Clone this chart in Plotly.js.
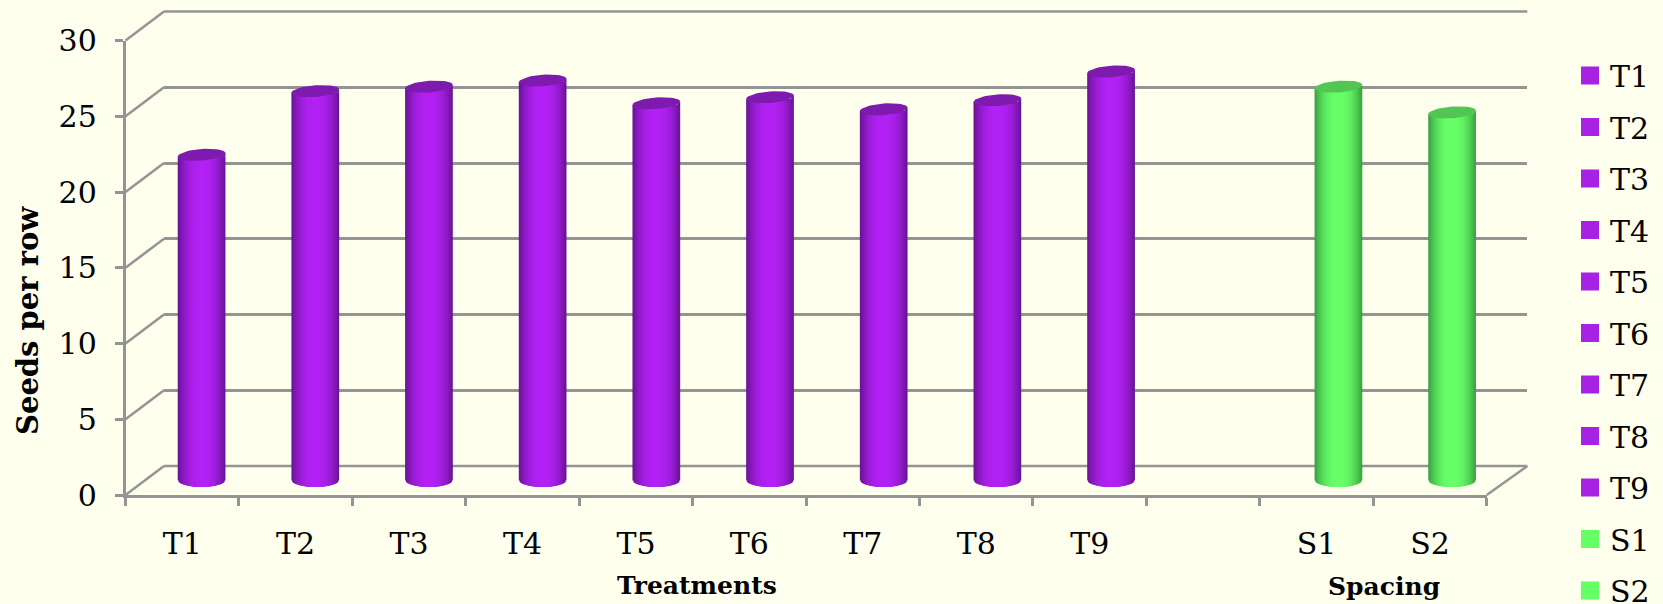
<!DOCTYPE html>
<html><head><meta charset="utf-8">
<script src="https://cdn.plot.ly/plotly-3.0.1.min.js"></script>
<style>html,body{margin:0;padding:0;background:#ffffee;width:1663px;height:604px;overflow:hidden}#c{width:1663px;height:640px}</style>
</head><body><div id="c"></div>
<script>
const categories = ['T1','T2','T3','T4','T5','T6','T7','T8','T9',' ','S1','S2'];
const seedsPerRow = [21.5,25.7,26.0,26.4,24.9,25.3,24.5,25.1,27.0,null,26.0,24.3];
const yTicks = [0,5,10,15,20,25,30];

// the figure runs a little below the window so the tall legend is not squeezed
const W=1663,H=640;
const FRONT={l:125.5,r:1486.7,t:40.5,b:495};
const DEPTH={x:38.5,y:29};
const BACK_R=1527.3, BAR_STRETCH=3;
const GRAY='#949494', BG='#ffffee', FONT='"DejaVu Serif", serif', LW=2.5;
const PURPLE={legend:'#a822e4',mid:[178,34,244],edge:[104,20,150],cap:'#7e1bae'};
const GREEN={legend:'#66ff66',mid:[104,255,104],edge:[58,160,66],cap:'#52c652'};
const palette=c=>c[0]==='S'?GREEN:PURPLE;
const domX=s=>[(FRONT.l+DEPTH.x*s)/W,(FRONT.r+DEPTH.x*s)/W];
const domY=s=>[1-(FRONT.b-DEPTH.y*s)/H,1-(FRONT.t-DEPTH.y*s)/H];
const pxPerY=(FRONT.b-FRONT.t)/30, pxPerX=(FRONT.r-FRONT.l)/12;

const shown=categories.map((c,i)=>i).filter(i=>seedsPerRow[i]!==null);
const traces=[];
traces.push({type:'scatter',x:[0],y:[null],xaxis:'x',yaxis:'y',showlegend:false,hoverinfo:'skip'});

// cylinder bodies: nested bars, lightest in the middle
const N=28, HALF=23.8/pxPerX, FOOT=6.5/pxPerY, TILT=1.7/pxPerY, CAPH=5.8/pxPerY, BELOW=2;
for(let k=0;k<N;k++){
  const t=1-k/N;
  const s=Math.pow(t,2.4);
  const mix=p=>{const m=p.mid,e=p.edge;return 'rgb('+m.map((v,j)=>Math.round(v+(e[j]-v)*s)).join(',')+')';};
  const base=-FOOT*Math.sqrt(1-t*t);
  traces.push({type:'bar',xaxis:'x2',yaxis:'y2',showlegend:false,hoverinfo:'skip',
    x:shown,
    y:shown.map(i=>seedsPerRow[i]-TILT-base),
    base:shown.map(()=>base),
    width:2*HALF*t,
    marker:{color:shown.map(i=>mix(palette(categories[i]))),line:{width:0}}});
}
// small wedge closing the body up to the raised right end of each top
[PURPLE,GREEN].forEach(p=>{
  const xs=[],ys=[];
  shown.filter(i=>palette(categories[i])===p).forEach(i=>{
    const v=seedsPerRow[i];
    xs.push(i+HALF,i+HALF,i+HALF*0.86,null);
    ys.push(v+TILT,v-TILT,v-TILT,null);
  });
  traces.push({type:'scatter',mode:'lines',xaxis:'x2',yaxis:'y2',showlegend:false,hoverinfo:'skip',
    x:xs,y:ys,fill:'toself',fillcolor:'rgb('+p.edge.join(',')+')',line:{width:0}});
});
// cylinder tops
[PURPLE,GREEN].forEach(p=>{
  const xs=[],ys=[];
  shown.filter(i=>palette(categories[i])===p).forEach(i=>{
    for(let a=0;a<=48;a++){
      const th=a/48*2*Math.PI;
      xs.push(i+HALF*Math.cos(th));
      ys.push(seedsPerRow[i]+CAPH*Math.sin(th)+TILT*Math.cos(th));
    }
    xs.push(null);ys.push(null);
  });
  traces.push({type:'scatter',mode:'lines',xaxis:'x2',yaxis:'y2',showlegend:false,hoverinfo:'skip',
    x:xs,y:ys,fill:'toself',fillcolor:p.cap,line:{width:0,color:p.cap}});
});
// legend entries
shown.forEach(i=>{
  const c=categories[i];
  traces.push({type:'scatter',mode:'markers',xaxis:'x3',yaxis:'y3',name:c,legendgroup:c,x:[c],y:[null],
    marker:{symbol:'square',size:16,color:palette(c).legend,line:{width:2,color:palette(c).legend}},hoverinfo:'skip'});
});

// walls and floor edges
const line=(x0,y0,x1,y1)=>({type:'line',xref:'paper',yref:'paper',layer:'below',
  x0:x0/W,x1:x1/W,y0:1-y0/H,y1:1-y1/H,line:{color:GRAY,width:LW}});
const shapes=yTicks.map(v=>{const y=FRONT.b-v*pxPerY;return line(FRONT.l,y,FRONT.l+DEPTH.x,y-DEPTH.y);});
shapes.push(line(FRONT.r,FRONT.b,BACK_R,FRONT.b-DEPTH.y));
[0,30].forEach(v=>{const y=FRONT.b-v*pxPerY-DEPTH.y;shapes.push(line(FRONT.l+DEPTH.x,y,BACK_R,y));});

const note=(text,px,py,size,angle)=>({text:'<b>'+text+'</b>',xref:'paper',yref:'paper',x:px/W,y:1-py/H,
  xanchor:'center',yanchor:'middle',showarrow:false,textangle:angle||0,
  font:{family:FONT,size:size,color:'#000'}});

const midX=domX(.5), midY=domY(.5);
const layout={
  width:W,height:H,margin:{l:0,r:0,t:0,b:0},paper_bgcolor:BG,plot_bgcolor:'rgba(0,0,0,0)',
  barmode:'overlay',showlegend:true,shapes,
  annotations:[note('Treatments',697,585,25),note('Spacing',1384,586,25),note('Seeds per row',28,321,29,-90)],
  legend:{x:1570/W,xanchor:'left',y:1-49.5/H,yanchor:'top',bgcolor:'rgba(0,0,0,0)',tracegroupgap:9.5,
    font:{family:FONT,size:30,color:'#000'},itemclick:false,itemdoubleclick:false},
  // back wall
  xaxis:{domain:[domX(1)[0],BACK_R/W],range:[-0.5,11.5],visible:false,anchor:'y'},
  yaxis:{domain:domY(1),range:[0,30],tickvals:yTicks,showgrid:true,gridcolor:GRAY,gridwidth:LW,zeroline:false,
    showline:false,ticks:'',showticklabels:false,anchor:'x'},
  // cylinders stand half way into the depth
  xaxis2:{domain:[midX[0],midX[1]+BAR_STRETCH/W],range:[-0.5,11.5],visible:false,anchor:'y2'},
  yaxis2:{domain:[midY[0]-BELOW*pxPerY/H,midY[1]],range:[-BELOW,30],visible:false,anchor:'x2'},
  // front axes
  xaxis3:{domain:domX(0),type:'category',categoryorder:'array',categoryarray:categories,range:[-0.5,11.5],anchor:'y3',
    tickmode:'array',tickvals:categories,ticktext:categories,
    tickson:'boundaries',ticks:'outside',ticklen:8,tickwidth:LW,tickcolor:GRAY,showline:true,linecolor:GRAY,linewidth:LW,showgrid:false,zeroline:false,
    ticklabelstandoff:20,tickfont:{family:FONT,size:30,color:'#000'}},
  yaxis3:{domain:domY(0),range:[0,30],tickvals:yTicks,anchor:'x3',ticks:'outside',ticklen:8,tickwidth:LW,tickcolor:GRAY,
    showline:true,linecolor:GRAY,linewidth:LW,showgrid:false,zeroline:false,ticklabelstandoff:12,
    tickfont:{family:FONT,size:30,color:'#000'}}
};
Plotly.newPlot('c',traces,layout,{displayModeBar:false});
</script></body></html>
